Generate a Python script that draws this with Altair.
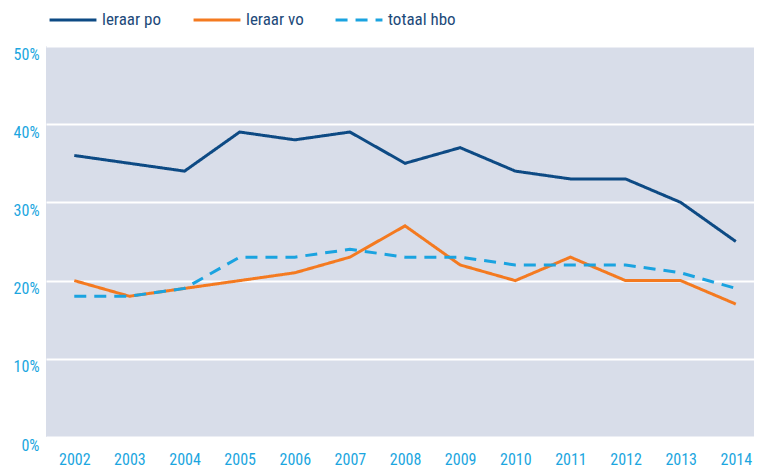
import altair as alt
import pandas as pd

years = list(range(2002, 2015))
series_names = ["leraar po", "leraar vo", "totaal hbo"]
leraar_po = [36, 35, 34, 39, 38, 39, 35, 37, 34, 33, 33, 30, 25]
leraar_vo = [20, 18, 19, 20, 21, 23, 27, 22, 20, 23, 20, 20, 17]
totaal_hbo = [18, 18, 19, 23, 23, 24, 23, 23, 22, 22, 22, 21, 19]
y_ticks = [0, 0.1, 0.2, 0.3, 0.4, 0.5]

rows = []
for name, vals in zip(series_names, [leraar_po, leraar_vo, totaal_hbo]):
    for yr, v in zip(years, vals):
        rows.append({"jaar": yr, "reeks": name, "waarde": v / 100})
df = pd.DataFrame(rows)

FONT = "Roboto Condensed, Noto Sans Condensed, Open Sans Condensed, DejaVu Sans Condensed, Liberation Sans Narrow, Roboto"
colors = ["#0d4a84", "#f47a20", "#1aa3e0"]
dashes = [[1, 0], [1, 0], [12, 8]]

legend_cfg = dict(title=None, orient="none", direction="horizontal",
                  legendX=2, legendY=-51, symbolType="stroke",
                  symbolSize=2200, symbolStrokeWidth=3,
                  labelFontSize=17, labelColor="#1d4a7a",
                  labelFont=FONT, labelOffset=4, columnPadding=25)

chart = alt.Chart(df).mark_line(strokeWidth=3).encode(
    x=alt.X("jaar:Q",
            scale=alt.Scale(domain=[2001.487, 2014.33], nice=False, zero=False),
            axis=alt.Axis(values=years, format="d", title=None, grid=False,
                          domain=False, ticks=False, labelFontSize=16,
                          labelColor="#1ba6e0", labelPadding=14, labelFont=FONT,
                          labelFlush=False)),
    y=alt.Y("waarde:Q",
            scale=alt.Scale(domain=[0, 0.5], nice=False),
            axis=alt.Axis(values=y_ticks, format=".0%", title=None, grid=True,
                          gridColor="white", gridWidth=2, domain=False, ticks=False,
                          labelFontSize=16, labelColor="#1ba6e0", labelPadding=7,
                          labelBaseline="top", labelFont=FONT)),
    color=alt.Color("reeks:N",
                    scale=alt.Scale(domain=series_names, range=colors),
                    legend=alt.Legend(**legend_cfg)),
    strokeDash=alt.StrokeDash("reeks:N",
                              scale=alt.Scale(domain=series_names, range=dashes),
                              legend=alt.Legend(**legend_cfg)),
).properties(
    width=708,
    height=391,
    autosize=alt.AutoSizeParams(type="none"),
    padding={"left": 38, "top": 38, "right": 0, "bottom": 32},
).configure_view(
    fill="#d8dde9", stroke=None
)

chart.save("out.html", embed_options={"renderer": "svg", "actions": False})
